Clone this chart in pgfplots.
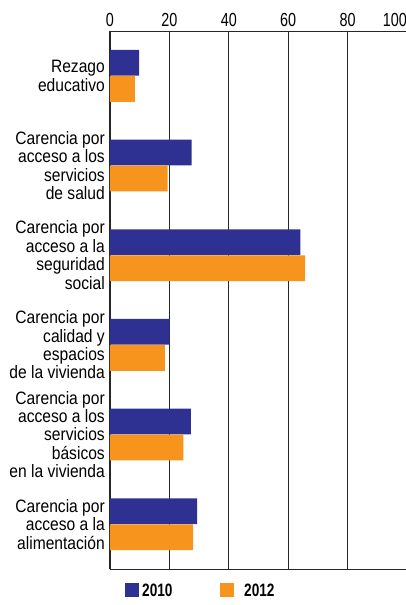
\documentclass[border=0pt]{standalone}
\usepackage{pgfplots}
\pgfplotsset{compat=1.18}
\usetikzlibrary{calc}
\usepackage{fontspec}
\setmainfont{Liberation Sans}[FakeStretch=0.87]
\newfontfamily\numfont{Liberation Sans}[FakeStretch=0.76]
\definecolor{c2010}{HTML}{2E3192}
\definecolor{c2012}{HTML}{F7941D}

\begin{document}
\begin{tikzpicture}
\begin{axis}[
  name=ax,
  scale only axis,
  width=297bp, height=538bp,
  xmin=0, xmax=100,
  ymin=-0.5, ymax=5.5,
  y dir=reverse,
  axis x line*=top,
  axis y line*=left,
  xtick={0,20,40,60,80,100},
  xticklabels={0,20,40,60,80,\makebox[0pt][r]{100}},
  ytick={0,1,2,3,4,5},
  yticklabels={
    Rezago\\educativo,
    Carencia por\\acceso a los\\servicios\\de salud,
    Carencia por\\acceso a la\\seguridad\\social,
    Carencia por\\calidad y\\espacios\\de la vivienda,
    Carencia por\\acceso a los\\servicios\\básicos\\en la vivienda,
    Carencia por\\acceso a la\\alimentación},
  major tick length=0pt,
  xmajorgrids,
  grid style={black!85, line width=0.8bp},
  x axis line style={black!85, line width=0.8bp},
  y axis line style={black!85, line width=1.6bp},
  xticklabel style={font=\numfont\fontsize{19}{19}\selectfont, inner sep=0pt, yshift=4bp},
  yticklabel style={font=\fontsize{18}{18.5}\selectfont, align=right, inner sep=0pt, xshift=-5bp},
  xbar, bar width=0.288, bar shift=0pt,
  clip=false,
]
\addplot[fill=c2010, draw=none] coordinates {
  (9.8,-0.145) (27.5,0.855) (64.1,1.855) (20.1,2.855) (27.2,3.855) (29.3,4.855)
};
\addplot[fill=c2012, draw=none] coordinates {
  (8.4,0.145) (19.4,1.145) (65.7,2.145) (18.5,3.145) (24.7,4.145) (28.0,5.145)
};
\draw[black!85, line width=0.8bp] (axis cs:0,5.5) -- (axis cs:100,5.5);
\end{axis}
% legend
\fill[c2010] ($(ax.south west)+(15bp,-14bp)$) rectangle ++(14bp,-14bp);
\node[anchor=north west, inner sep=0pt, font=\numfont\bfseries\fontsize{18}{18}\selectfont] at ($(ax.south west)+(32bp,-15bp)$) {2010};
\fill[c2012] ($(ax.south west)+(110bp,-14bp)$) rectangle ++(14bp,-14bp);
\node[anchor=north west, inner sep=0pt, font=\numfont\bfseries\fontsize{18}{18}\selectfont] at ($(ax.south west)+(134bp,-15bp)$) {2012};
\pgfresetboundingbox
\path[use as bounding box] ($(ax.south west)+(-110bp,-36bp)$) rectangle ($(ax.north east)+(-1bp,31bp)$);
\end{tikzpicture}
\end{document}
